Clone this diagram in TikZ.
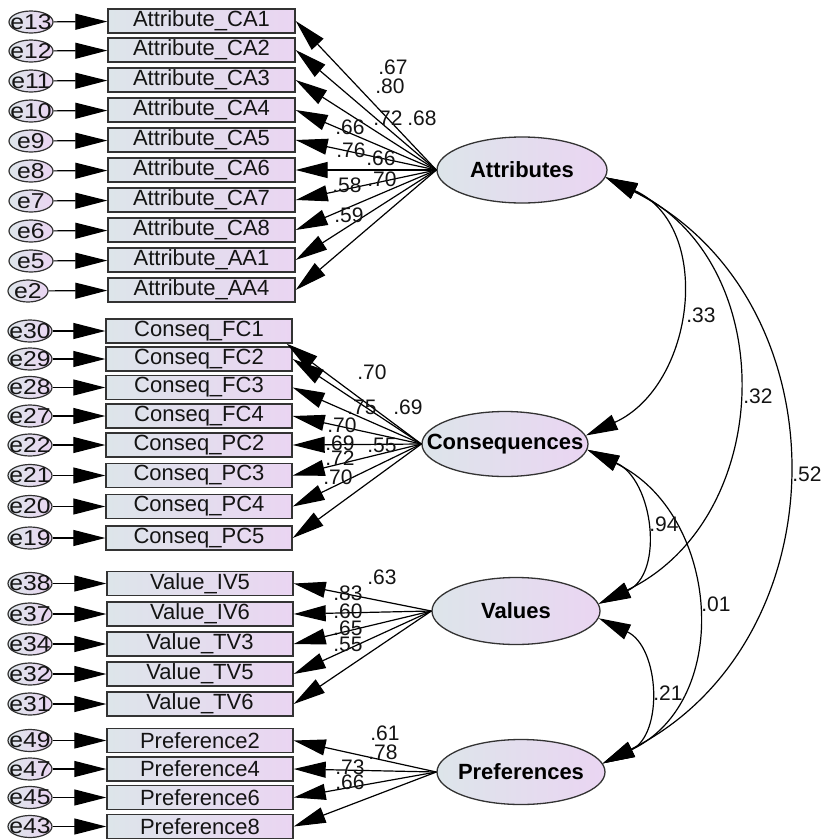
\documentclass[tikz,border=0pt]{standalone}
\usepackage{fontspec}
\setmainfont{Liberation Sans}
\newfontfamily\efont[FakeStretch=1.15]{Liberation Sans}
\usetikzlibrary{arrows.meta,shapes.geometric}
\definecolor{gl}{HTML}{DDE5EA}
\definecolor{gr}{HTML}{EAD5F2}
\definecolor{edgec}{HTML}{333333}
\definecolor{txt}{HTML}{141414}
\begin{document}
\begin{tikzpicture}[x=1pt,y=-1pt,
  >={Triangle[length=32pt,width=16pt]},
  font=\fontsize{22}{24}\selectfont,
  obs/.style={draw=edgec, line width=1.4pt, left color=gl, right color=gr,
    minimum width=187pt, minimum height=24pt, inner sep=0pt, text=txt},
  err/.style={ellipse, draw=edgec, line width=1.2pt, left color=gl, right color=gr,
    minimum width=44pt, minimum height=22pt, inner sep=0pt},
  lat/.style={ellipse, draw=edgec, line width=1.3pt, left color=gl, right color=gr,
    inner sep=0pt},
  elab/.style={inner sep=0pt, text=txt, font=\efont\fontsize{21.5}{22}\selectfont},
  llab/.style={inner sep=0pt, text=black, font=\fontsize{22}{24}\selectfont\bfseries},
  coef/.style={inner sep=0pt, text=txt, font=\fontsize{21}{22}\selectfont},
  earr/.style={->, draw=black, line width=1.2pt},
  farr/.style={->, draw=black, line width=1.2pt},
  cov/.style={<->, draw=black, line width=1.2pt}
]
\fill[white] (0,0) rectangle (825,839);
\useasboundingbox (0,0) rectangle (825,839);

% latent variables
\node[lat, minimum width=170pt, minimum height=66pt, label={[llab]center:Attributes}] (att) at (522,170) {};
\node[lat, minimum width=166pt, minimum height=65pt, label={[llab]center:Consequences}] (cons) at (505,444) {};
\node[lat, minimum width=168pt, minimum height=67pt, label={[llab]center:Values}] (val) at (516,611) {};
\node[lat, minimum width=168pt, minimum height=65pt, label={[llab]center:Preferences}] (pref) at (521,772) {};

% Attributes indicators
\foreach \n/\t/\y/\e/\ex/\ew in {
  a1/Attribute\_CA1/21/e13/31/44, a2/Attribute\_CA2/50/e12/31/44,
  a3/Attribute\_CA3/80/e11/31/44, a4/Attribute\_CA4/110/e10/31/44,
  a5/Attribute\_CA5/140/e9/31/44, a6/Attribute\_CA6/170/e8/31/44,
  a7/Attribute\_CA7/200/e7/31/44, a8/Attribute\_CA8/230/e6/31/44,
  a9/Attribute\_AA1/260/e5/31/44, a10/Attribute\_AA4/290/e2/28/40}{
  \node[obs] (\n) at (201.5,\y) {\t};
  \node[err, minimum width=\ew pt, label={[elab]center:\e}] (e\n) at (\ex,\y+1) {};
  \draw[earr] (e\n) -- (\n);
  \draw[farr] (att.west) -- (\n.east);
}

% Consequences indicators
\foreach \n/\t/\y/\e in {
  c1/Conseq\_FC1/331/e30, c2/Conseq\_FC2/359/e29, c3/Conseq\_FC3/387.5/e28,
  c4/Conseq\_FC4/416/e27, c5/Conseq\_PC2/445/e22, c6/Conseq\_PC3/475.5/e21,
  c7/Conseq\_PC4/506.5/e20, c8/Conseq\_PC5/538/e19}{
  \node[obs, minimum width=186pt] (\n) at (199,\y) {\t};
  \node[err, label={[elab]center:\e}] (e\n) at (30,\y) {};
  \draw[earr] (e\n) -- (\n);
}
\draw[farr] (cons.west) -- ([xshift=-6pt]c1.south east);
\foreach \n in {c2,c3,c4,c5,c6,c7,c8}{
  \draw[farr] (cons.west) -- (\n.east);
}

% Values indicators
\foreach \n/\t/\y/\e in {
  v1/Value\_IV5/583.5/e38, v2/Value\_IV6/614/e37, v3/Value\_TV3/644/e34,
  v4/Value\_TV5/674/e32, v5/Value\_TV6/704/e31}{
  \node[obs, minimum width=186pt] (\n) at (200,\y) {\t};
  \node[err, label={[elab]center:\e}] (e\n) at (30,\y) {};
  \draw[earr] (e\n) -- (\n);
  \draw[farr] (val.west) -- (\n.east);
}

% Preferences indicators
\foreach \n/\t/\y/\e in {
  p1/Preference2/740.5/e49, p2/Preference4/769/e47,
  p3/Preference6/797.5/e45, p4/Preference8/826.5/e43}{
  \node[obs, minimum width=186pt] (\n) at (200,\y) {\t};
  \node[err, label={[elab]center:\e}] (e\n) at (30,\y) {};
  \draw[earr] (e\n) -- (\n);
  \draw[farr] (pref.west) -- (\n.east);
}

% covariances
\draw[cov] (att.-5) .. controls +(109,49.5) and +(109,-49.5) .. (cons.6);
\draw[cov] (att.-5) .. controls +(177,85) and +(177,-85) .. (val.5);
\draw[cov] (att.-5) .. controls +(241,121) and +(241,-121) .. (pref.6);
\draw[cov] (cons.-4) .. controls +(66,30) and +(66,-30) .. (val.5);
\draw[cov] (cons.-4) .. controls +(132,63) and +(132,-63) .. (pref.6);
\draw[cov] (val.-5) .. controls +(61,29) and +(61,-29) .. (pref.6);

% loading labels
\foreach \k/\x/\y/\v in {
  la1/393/67/.67, la2/390/86/.80, la3/388/118/.72, la4/422/118/.68,
  la5/350/127/.66, la6/351/150/.76, la7/381/158/.66, la8/347/185/.58,
  la9/382/179/.70, la10/349/215/.59,
  lc1/372/372/.70, lc2/362/407/.75, lc3/408/407/.69, lc4/342/425/.70,
  lc5/340/443/.69, lc6/382/445/.55, lc7/340/458/.72, lc8/338/477/.70,
  lv1/382/577/.63, lv2/348/593/.83, lv3/348/611/.60, lv4/348/628/.65,
  lv5/348/644/.55,
  lp1/385/733/.61, lp2/383/752/.78, lp3/350/767/.73, lp4/350/782/.66,
  r1/701/315/.33, r2/758/396/.32, r3/807/474/.52, r4/664/524/.94,
  r5/716/604/.01, r6/668/693/.21}{
  \node[coef] (\k) at (\x,\y) {\v};
}
\end{tikzpicture}
\end{document}
